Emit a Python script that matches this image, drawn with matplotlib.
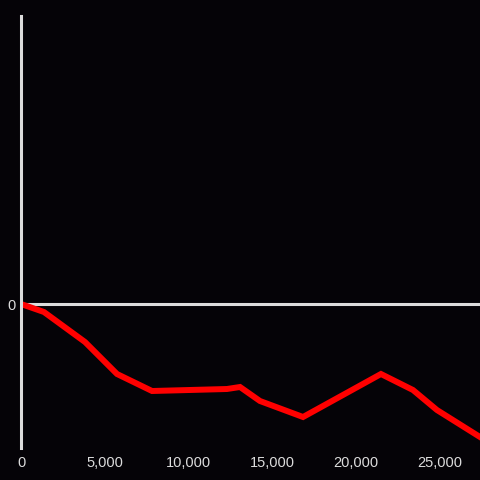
import matplotlib
matplotlib.use('Agg')
import matplotlib.pyplot as plt
from matplotlib.ticker import FuncFormatter

# values (y in arbitrary units)
x_vals = [0, 1370, 3820, 5730, 7820, 12290, 13070, 14260, 16830, 19210, 21480, 23390, 24820, 27390]
y_vals = [0, -8, -38, -70, -87, -85, -83, -97, -113, -91, -70, -86, -106, -133]
x_ticks = [0, 5000, 10000, 15000, 20000, 25000]
y_ticks = [0]

bg = '#050307'
fg = '#dcdcdc'
plt.rcParams['font.family'] = ['Liberation Sans', 'DejaVu Sans']

fig = plt.figure(figsize=(4.8, 4.8), dpi=100, facecolor=bg)
ax = fig.add_axes([21 / 480, 32 / 480, 459 / 480, 432 / 480])
ax.set_facecolor(bg)

ax.axhline(0, color=fg, lw=2.2, zorder=1)
ax.plot(x_vals, y_vals, color='#ff0000', lw=4.3, solid_joinstyle='miter', zorder=2)

ax.set_xlim(0, 27390)
ax.set_ylim(-144, 288)
ax.set_xticks(x_ticks)
ax.set_yticks(y_ticks)
ax.xaxis.set_major_formatter(FuncFormatter(lambda v, p: f'{int(v):,}'))
ax.tick_params(axis='both', length=0, colors=fg, labelsize=10.5)
ax.tick_params(axis='x', pad=6)
ax.tick_params(axis='y', pad=4)

for s in ['top', 'right', 'bottom']:
    ax.spines[s].set_visible(False)
ax.spines['left'].set_color(fg)
ax.spines['left'].set_linewidth(2.2)

fig.savefig('out.png', facecolor=bg)
